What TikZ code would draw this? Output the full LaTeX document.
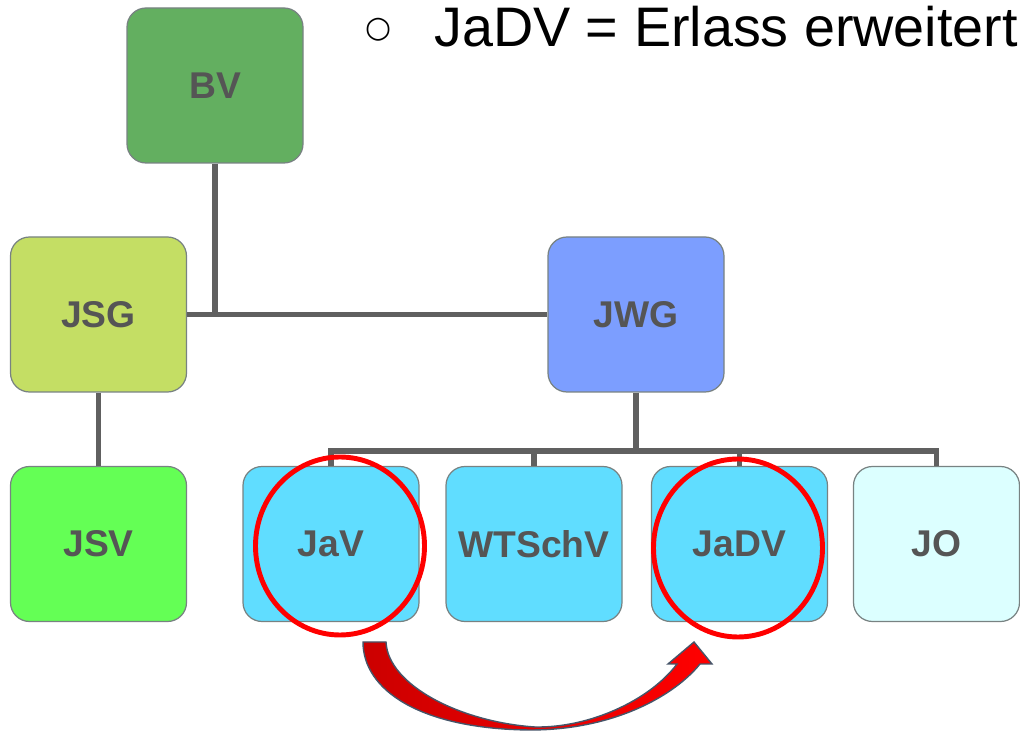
\documentclass[tikz,border=0pt]{standalone}
\usepackage{fontspec}
\setmainfont{Liberation Sans}
\newfontfamily\symfont{DejaVu Sans}
\usetikzlibrary{positioning,shapes.geometric}

\definecolor{bvgreen}{RGB}{99,175,96}
\definecolor{jsgyellow}{RGB}{196,222,100}
\definecolor{jwgblue}{RGB}{124,158,255}
\definecolor{jsvgreen}{RGB}{100,255,85}
\definecolor{subcyan}{RGB}{96,221,255}
\definecolor{jopale}{RGB}{220,255,255}
\definecolor{boxborder}{RGB}{120,130,130}
\definecolor{labelgray}{RGB}{85,85,85}
\definecolor{linkgray}{RGB}{96,96,96}
\definecolor{darkred}{RGB}{204,0,0}
\definecolor{arrowedge}{RGB}{70,85,105}

\begin{document}
\begin{tikzpicture}[
  orgbox/.style={rectangle, rounded corners=0.38cm, draw=boxborder, line width=0.7pt,
    minimum width=3.52cm, minimum height=3.1cm, inner sep=0pt,
    text=labelgray, font=\fontsize{21.2}{24}\selectfont\bfseries},
  link/.style={draw=linkgray, line width=3.4pt},
  ring/.style={ellipse, draw=red, line width=2.8pt, minimum width=3.38cm,
    minimum height=3.56cm, inner sep=0pt},
  bigarrow/.style={draw=arrowedge, line width=0.8pt, left color=darkred, right color=red}
]
\useasboundingbox (0,0) rectangle (20.4,-14.62);

% Top level
\node[orgbox, fill=bvgreen] (bv) at (4.30,-1.71) {BV};
\node[orgbox, fill=jsgyellow] (jsg) at (1.97,-6.29) {JSG};
\node[orgbox, fill=jwgblue, right of=jsg, node distance=10.75cm] (jwg) {JWG};

% Bottom row
\node[orgbox, fill=jsvgreen, below of=jsg, node distance=4.59cm] (jsv) {JSV};
\node[orgbox, fill=subcyan, right of=jsv, node distance=4.65cm] (jav) {JaV};
\node[orgbox, fill=subcyan, right of=jav, node distance=4.06cm] (wtschv) {WTSchV};
\node[orgbox, fill=subcyan, right of=wtschv, node distance=4.11cm] (jadv) {JaDV};
\node[orgbox, fill=jopale, right of=jadv, node distance=3.94cm, minimum width=3.32cm] (jo) {JO};

% Connections
\draw[link] (jsg.east) -- (jwg.west);
\draw[link] (bv.south) -- (bv.south |- jsg.east);
\draw[link] (jsg.south) -- (jsv.north);
\coordinate[below of=jwg, node distance=2.73cm] (bus);
\draw[link] (jwg.south) -- (bus);
\draw[link] (jav.north) -- (jav.north |- bus) -- (jo.north |- bus) -- (jo.north);
\foreach \n in {wtschv, jadv}
  \draw[link] (\n.north) -- (\n.north |- bus);

% Red marks
\node[ring] (javring) at (6.80,-10.92) {};
\node[ring] (jadvring) at (14.76,-10.96) {};

\path[bigarrow] (7.26,-12.84) .. controls (7.26,-13.80) and (8.40,-14.58) .. (10.60,-14.60)
  .. controls (12.30,-14.60) and (13.50,-13.90) .. (14.00,-13.28)
  -- (14.24,-13.28) -- (13.88,-12.84) -- (13.36,-13.28) -- (13.54,-13.28)
  .. controls (13.00,-14.00) and (11.80,-14.56) .. (10.70,-14.54)
  .. controls (9.20,-14.44) and (7.76,-13.70) .. (7.72,-12.84) -- cycle;

% Heading
\node[font={\symfont\fontsize{17}{17}\selectfont}, inner sep=0pt] (bullet) at (7.58,-0.60) {○};
\node[anchor=base west, inner sep=0pt, font=\fontsize{31.7}{36}\selectfont] (heading) at (8.68,-0.94) {JaDV = Erlass erweitert};

\end{tikzpicture}
\end{document}
